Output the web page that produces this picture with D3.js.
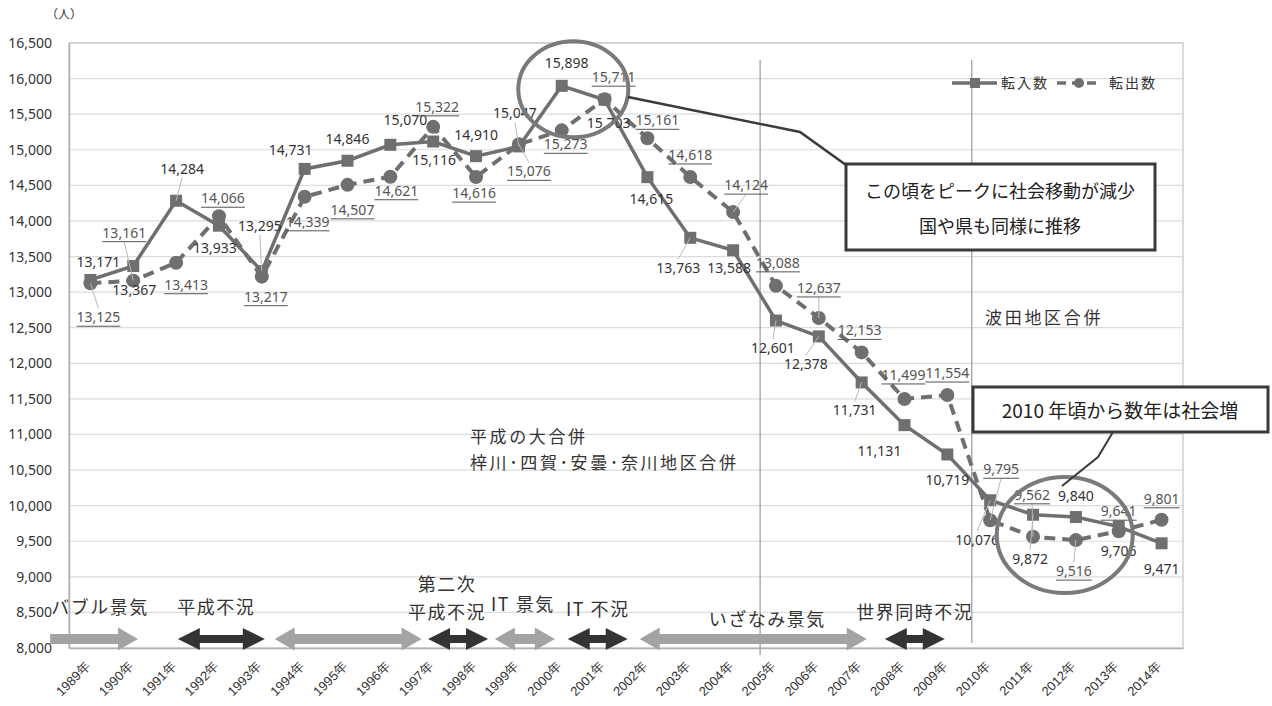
<!DOCTYPE html>
<html lang="ja">
<head>
<meta charset="utf-8">
<script src="https://cdn.jsdelivr.net/npm/d3@7/dist/d3.min.js"></script>
<style>
  html, body { margin: 0; padding: 0; background: #fff; }
  svg { display: block; font-family: "Noto Sans CJK JP", "Noto Sans", sans-serif; }
</style>
</head>
<body>
<svg id="chart" width="1272" height="706"></svg>
<script>
// ---- data ----
const years = ["1989年","1990年","1991年","1992年","1993年","1994年","1995年","1996年","1997年","1998年","1999年","2000年","2001年","2002年","2003年","2004年","2005年","2006年","2007年","2008年","2009年","2010年","2011年","2012年","2013年","2014年"];
const tennyu = [13171,13367,14284,13933,13295,14731,14846,15070,15116,14910,15047,15898,15703,14615,13763,13588,12601,12378,11731,11131,10719,10076,9872,9840,9706,9471];
const tenshutsu = [13125,13161,13413,14066,13217,14339,14507,14621,15322,14616,15076,15273,15711,15161,14618,14124,13088,12637,12153,11499,11554,9795,9562,9516,9641,9801];
const yTicks = [8000,8500,9000,9500,10000,10500,11000,11500,12000,12500,13000,13500,14000,14500,15000,15500,16000,16500];
const seriesNames = ["転入数", "転出数"];

// economic periods (year span, label lines, style)
const periodLabels = [["バブル景気"], ["平成不況"], [], ["第二次", "平成不況"], ["IT 景気"], ["IT 不況"], ["いざなみ景気"], ["世界同時不況"]];
const periodFrom = [1988.06, 1991.04, 1993.30, 1996.88, 1998.44, 2000.14, 2001.82, 2007.54];
const periodTo   = [1990.11, 1993.07, 1996.73, 1998.28, 1999.84, 2001.54, 2007.12, 2008.94];
const periodBoom = [true, false, true, false, true, false, true, false];

// ---- layout ----
const margin = { left: 69, right: 1183, top: 43, bottom: 648 };
const svg = d3.select("#chart");

const x = d3.scalePoint().domain(years).range([margin.left, margin.right]).padding(0.5);
const y = d3.scaleLinear().domain([8000, 16500]).range([margin.bottom, margin.top]);
const xYear = yr => x(years[0]) + (yr - 1989) * x.step();

// label offsets relative to each marker (dx, dy to text centre)
const tennyuLabelPos = [[8,-18],[1,24],[6,-32],[-4,22],[-2,-45],[-14,-19],[0,-22],[15,-25],[1,19],[0,-21],[-4,-33],[5,-23],[4,23],[4,22],[-12,30],[-4,18],[-3,28],[-13,28],[-7,28],[-25,26],[0,26],[-13,40],[-3,44],[0,-21],[0,25],[0,26]];
const tenshutsuLabelPos = [[8,34],[-9,-48],[10,22],[4,-18],[4,20],[3,25],[5,25],[6,14],[4,-20],[-2,16],[10,27],[4,14],[9,-22],[10,-18],[0,-22],[13,-27],[2,-23],[0,-30],[-2,-22],[-1,-24],[0,-22],[11,-51],[-1,-42],[-2,31],[0,-20],[0,-21]];

const fmt = d3.format(",");

// ---- grid & frame ----
svg.append("rect").attr("width", 1272).attr("height", 706).attr("fill", "#fff");

svg.append("g").selectAll("line").data(yTicks.slice(1)).join("line")
  .attr("x1", margin.left).attr("x2", margin.right)
  .attr("y1", d => y(d)).attr("y2", d => y(d))
  .attr("stroke", "#dcdcdc").attr("stroke-width", 1.2);

svg.append("rect")
  .attr("x", margin.left).attr("y", margin.top)
  .attr("width", margin.right - margin.left).attr("height", margin.bottom - margin.top)
  .attr("fill", "none").attr("stroke", "#c4c4c4").attr("stroke-width", 1.2);

// y axis
const yAxis = svg.append("g").attr("transform", `translate(${margin.left},0)`)
  .call(d3.axisLeft(y).tickValues(yTicks).tickFormat(fmt).tickSize(0).tickPadding(17));
yAxis.select(".domain").attr("stroke", "#b0b0b0").attr("stroke-width", 1.5);
yAxis.selectAll("text").attr("font-size", 14).attr("fill", "#333")
  .attr("font-family", "'Noto Sans', sans-serif");

// x axis
const xAxis = svg.append("g").attr("transform", `translate(0,${margin.bottom})`)
  .call(d3.axisBottom(x).tickSize(0));
xAxis.select(".domain").attr("stroke", "#b0b0b0").attr("stroke-width", 1.5);
xAxis.selectAll("text")
  .attr("font-size", 13).attr("fill", "#333")
  .attr("text-anchor", "end")
  .attr("transform", "translate(-3,16) rotate(-45)")
  .attr("dy", "0.35em").attr("y", 0).attr("x", 0);

svg.append("text").attr("x", 46).attr("y", 19).attr("font-size", 12).attr("fill", "#333").text("（人）");

// vertical marker lines (merger years)
svg.append("line").attr("x1", xYear(2004.63)).attr("x2", xYear(2004.63)).attr("y1", 60).attr("y2", 655)
  .attr("stroke", "#9a9a9a").attr("stroke-width", 1.2);
svg.append("line").attr("x1", xYear(2009.57)).attr("x2", xYear(2009.57)).attr("y1", 60).attr("y2", 643)
  .attr("stroke", "#9a9a9a").attr("stroke-width", 1.2);

// ---- series ----
const line = d3.line().x((d, i) => x(years[i])).y(d => y(d));
const col = "#6f6f6f";

svg.append("path").datum(tenshutsu).attr("d", line)
  .attr("fill", "none").attr("stroke", col).attr("stroke-width", 4)
  .attr("stroke-dasharray", "11 7");
svg.append("g").selectAll("circle").data(tenshutsu).join("circle")
  .attr("cx", (d, i) => x(years[i])).attr("cy", d => y(d)).attr("r", 7)
  .attr("fill", col);

svg.append("path").datum(tennyu).attr("d", line)
  .attr("fill", "none").attr("stroke", col).attr("stroke-width", 3.5);
svg.append("g").selectAll("rect").data(tennyu).join("rect")
  .attr("x", (d, i) => x(years[i]) - 6).attr("y", d => y(d) - 6)
  .attr("width", 12).attr("height", 12).attr("fill", col);

// ---- data labels ----
function drawLabels(values, offsets, color, underline) {
  const g = svg.append("g");
  values.forEach((v, i) => {
    const px = x(years[i]), py = y(v);
    const [dx, dy] = offsets[i];
    const lx = px + dx, ly = py + dy;
    if (Math.abs(dy) > 26) {
      const ey = dy < 0 ? ly + 9 : ly - 9;
      g.append("line").attr("x1", px).attr("y1", py).attr("x2", lx).attr("y2", ey)
        .attr("stroke", "#b8b8b8").attr("stroke-width", 1);
    }
    const t = g.append("text").attr("x", lx).attr("y", ly).attr("dy", "0.35em")
      .attr("text-anchor", "middle").attr("font-size", 14).attr("fill", color)
      .attr("font-family", "'Noto Sans', sans-serif")
      .text(fmt(v));
    if (underline) {
      const w = t.node().getComputedTextLength();
      g.append("line").attr("x1", lx - w / 2).attr("x2", lx + w / 2)
        .attr("y1", ly + 9).attr("y2", ly + 9)
        .attr("stroke", color).attr("stroke-width", 1);
    }
  });
}
drawLabels(tennyu, tennyuLabelPos, "#333", false);
drawLabels(tenshutsu, tenshutsuLabelPos, "#555", true);

// ---- highlight ellipses ----
svg.append("ellipse").attr("cx", xYear(2000.27)).attr("cy", y(15851)).attr("rx", 55).attr("ry", 48)
  .attr("fill", "none").attr("stroke", "#7a7a7a").attr("stroke-width", 4);
svg.append("ellipse").attr("cx", xYear(2011.74)).attr("cy", y(9587)).attr("rx", 68).attr("ry", 58)
  .attr("fill", "none").attr("stroke", "#7a7a7a").attr("stroke-width", 4);

// ---- callouts ----
svg.append("path").attr("d", "M628,97 L800,132 L846,165")
  .attr("fill", "none").attr("stroke", "#3a3a3a").attr("stroke-width", 2.5);
svg.append("rect").attr("x", 846).attr("y", 164).attr("width", 309).attr("height", 86)
  .attr("fill", "#fff").attr("stroke", "#3a3a3a").attr("stroke-width", 3);
svg.append("text").attr("x", 1000).attr("y", 192).attr("dy", "0.35em").attr("text-anchor", "middle")
  .attr("font-size", 18).attr("fill", "#222").text("この頃をピークに社会移動が減少");
svg.append("text").attr("x", 1000).attr("y", 227).attr("dy", "0.35em").attr("text-anchor", "middle")
  .attr("font-size", 18).attr("fill", "#222").text("国や県も同様に推移");

svg.append("path").attr("d", "M1113,432 L1098,457 L1062,486")
  .attr("fill", "none").attr("stroke", "#3a3a3a").attr("stroke-width", 2);
svg.append("rect").attr("x", 973).attr("y", 387).attr("width", 295).attr("height", 45)
  .attr("fill", "#fff").attr("stroke", "#3a3a3a").attr("stroke-width", 3);
svg.append("text").attr("x", 1120).attr("y", 411).attr("dy", "0.35em").attr("text-anchor", "middle")
  .attr("font-size", 19).attr("fill", "#222").text("2010 年頃から数年は社会増");

// merger notes
svg.append("text").attr("x", 985).attr("y", 318).attr("dy", "0.35em")
  .attr("font-size", 17).attr("fill", "#333").attr("letter-spacing", 2.7).text("波田地区合併");
svg.append("text").attr("x", 470).attr("y", 437).attr("dy", "0.35em")
  .attr("font-size", 17).attr("fill", "#333").attr("letter-spacing", 2.6).text("平成の大合併");
svg.append("text").attr("x", 470).attr("y", 463).attr("dy", "0.35em")
  .attr("font-size", 17).attr("fill", "#333").attr("letter-spacing", 2.6).text("梓川･四賀･安曇･奈川地区合併");

// ---- economic period arrows ----
function arrowPath(x1, x2, yc, sh, hh, hl, both) {
  if (both) {
    return `M${x1},${yc} L${x1 + hl},${yc - hh / 2} L${x1 + hl},${yc - sh / 2} L${x2 - hl},${yc - sh / 2} L${x2 - hl},${yc - hh / 2} L${x2},${yc} L${x2 - hl},${yc + hh / 2} L${x2 - hl},${yc + sh / 2} L${x1 + hl},${yc + sh / 2} L${x1 + hl},${yc + hh / 2} Z`;
  }
  return `M${x1},${yc - sh / 2} L${x2 - hl},${yc - sh / 2} L${x2 - hl},${yc - hh / 2} L${x2},${yc} L${x2 - hl},${yc + hh / 2} L${x2 - hl},${yc + sh / 2} L${x1},${yc + sh / 2} Z`;
}
const arrowY = 639;
const labelDx = [6, -5, 0, -11, -2, 0, 14, 0];
const labelY = [[608], [608], [], [585, 613], [605], [610], [620], [613]];
const ag = svg.append("g");
periodFrom.forEach((f, i) => {
  const x1 = xYear(f), x2 = xYear(periodTo[i]);
  const boom = periodBoom[i];
  ag.append("path")
    .attr("d", arrowPath(x1, x2, arrowY, boom ? 10 : 8, boom ? 23 : 22, boom ? 20 : 22, i !== 0))
    .attr("fill", boom ? "#a3a3a3" : "#333");
  periodLabels[i].forEach((txt, j) => {
    ag.append("text").attr("x", (x1 + x2) / 2 + labelDx[i]).attr("y", labelY[i][j]).attr("dy", "0.35em")
      .attr("text-anchor", "middle").attr("font-size", 18).attr("fill", "#333")
      .attr("letter-spacing", 1.5).text(txt);
  });
});

// ---- legend ----
const lg = svg.append("g");
lg.append("line").attr("x1", 952).attr("x2", 997).attr("y1", 83).attr("y2", 83)
  .attr("stroke", col).attr("stroke-width", 3.5);
lg.append("rect").attr("x", 970).attr("y", 78).attr("width", 10).attr("height", 10).attr("fill", col);
lg.append("text").attr("x", 1001).attr("y", 83).attr("dy", "0.35em").attr("font-size", 14)
  .attr("letter-spacing", 2).attr("fill", "#333").text(seriesNames[0]);
lg.append("line").attr("x1", 1057).attr("x2", 1100).attr("y1", 83).attr("y2", 83)
  .attr("stroke", col).attr("stroke-width", 3.5).attr("stroke-dasharray", "9 6");
lg.append("circle").attr("cx", 1079).attr("cy", 83).attr("r", 5).attr("fill", col);
lg.append("text").attr("x", 1109).attr("y", 83).attr("dy", "0.35em").attr("font-size", 14)
  .attr("letter-spacing", 2).attr("fill", "#333").text(seriesNames[1]);
</script>
</body>
</html>
